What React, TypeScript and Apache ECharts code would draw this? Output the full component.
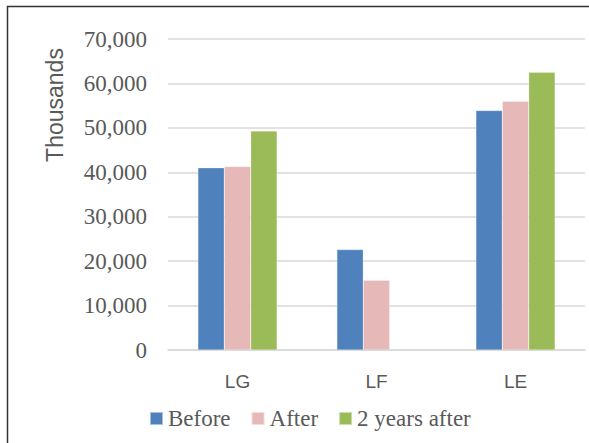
import React, { useEffect, useRef } from "react";
import * as echarts from "echarts";

const categories = ["LG", "LF", "LE"];
const beforeValues = [41000, 22600, 53900];
const afterValues = [41300, 15700, 56000];
const twoYearsAfterValues = [49300, null, 62500];
const seriesNames = ["Before", "After", "2 years after"];
const seriesColors = ["#4f81bd", "#e6b9b8", "#9bbb59"];
const yAxisTitle = "Thousands";
const yMin = 0;
const yMax = 70000;
const yInterval = 10000;

export default function App() {
  const ref = useRef<HTMLDivElement>(null);
  useEffect(() => {
    document.body.style.margin = "0";
    const chart = echarts.init(ref.current!, null, { renderer: "svg" });
    const dataSets = [beforeValues, afterValues, twoYearsAfterValues];
    chart.setOption({
      animation: false,
      backgroundColor: "#ffffff",
      grid: { left: 168, right: 4, top: 39, bottom: 93, containLabel: false },
      legend: {
        left: 144,
        top: 402,
        icon: "rect",
        itemWidth: 13,
        itemHeight: 13,
        itemGap: 20,
        textStyle: { fontFamily: "Liberation Serif", fontSize: 23, color: "#595959" },
        data: seriesNames,
      },
      xAxis: {
        type: "category",
        data: categories,
        axisLine: { show: true, lineStyle: { color: "#d9d9d9", width: 1.5 } },
        axisTick: { show: false },
        axisLabel: { fontFamily: "Liberation Sans", fontSize: 19, color: "#595959", margin: 22 },
      },
      yAxis: {
        type: "value",
        min: yMin,
        max: yMax,
        interval: yInterval,
        axisLine: { show: false },
        axisTick: { show: false },
        splitLine: { lineStyle: { color: "#d9d9d9", width: 1.5 } },
        axisLabel: {
          fontFamily: "Liberation Serif",
          fontSize: 23,
          color: "#595959",
          margin: 21,
          formatter: (v: number) => v.toLocaleString("en-US"),
        },
      },
      series: dataSets.map((d, i) => ({
        name: seriesNames[i],
        type: "bar",
        data: d,
        barGap: "0%",
        barCategoryGap: "43%",
        itemStyle: { color: seriesColors[i], borderColor: "rgba(255,255,255,0.5)", borderWidth: 0.5 },
      })),
      graphic: [
        {
          type: "rect",
          shape: { x: 7.5, y: 6.5, width: 600, height: 460 },
          style: { fill: "none", stroke: "#333333", lineWidth: 1.5 },
          silent: true,
        },
        {
          type: "text",
          x: 55,
          y: 105,
          rotation: Math.PI / 2,
          style: {
            text: yAxisTitle,
            fontFamily: "Liberation Sans",
            fontSize: 23,
            fill: "#595959",
            align: "center",
            verticalAlign: "middle",
          },
          silent: true,
        },
      ],
    });
    return () => chart.dispose();
  }, []);
  return <div ref={ref} style={{ width: 589, height: 443 }} />;
}
